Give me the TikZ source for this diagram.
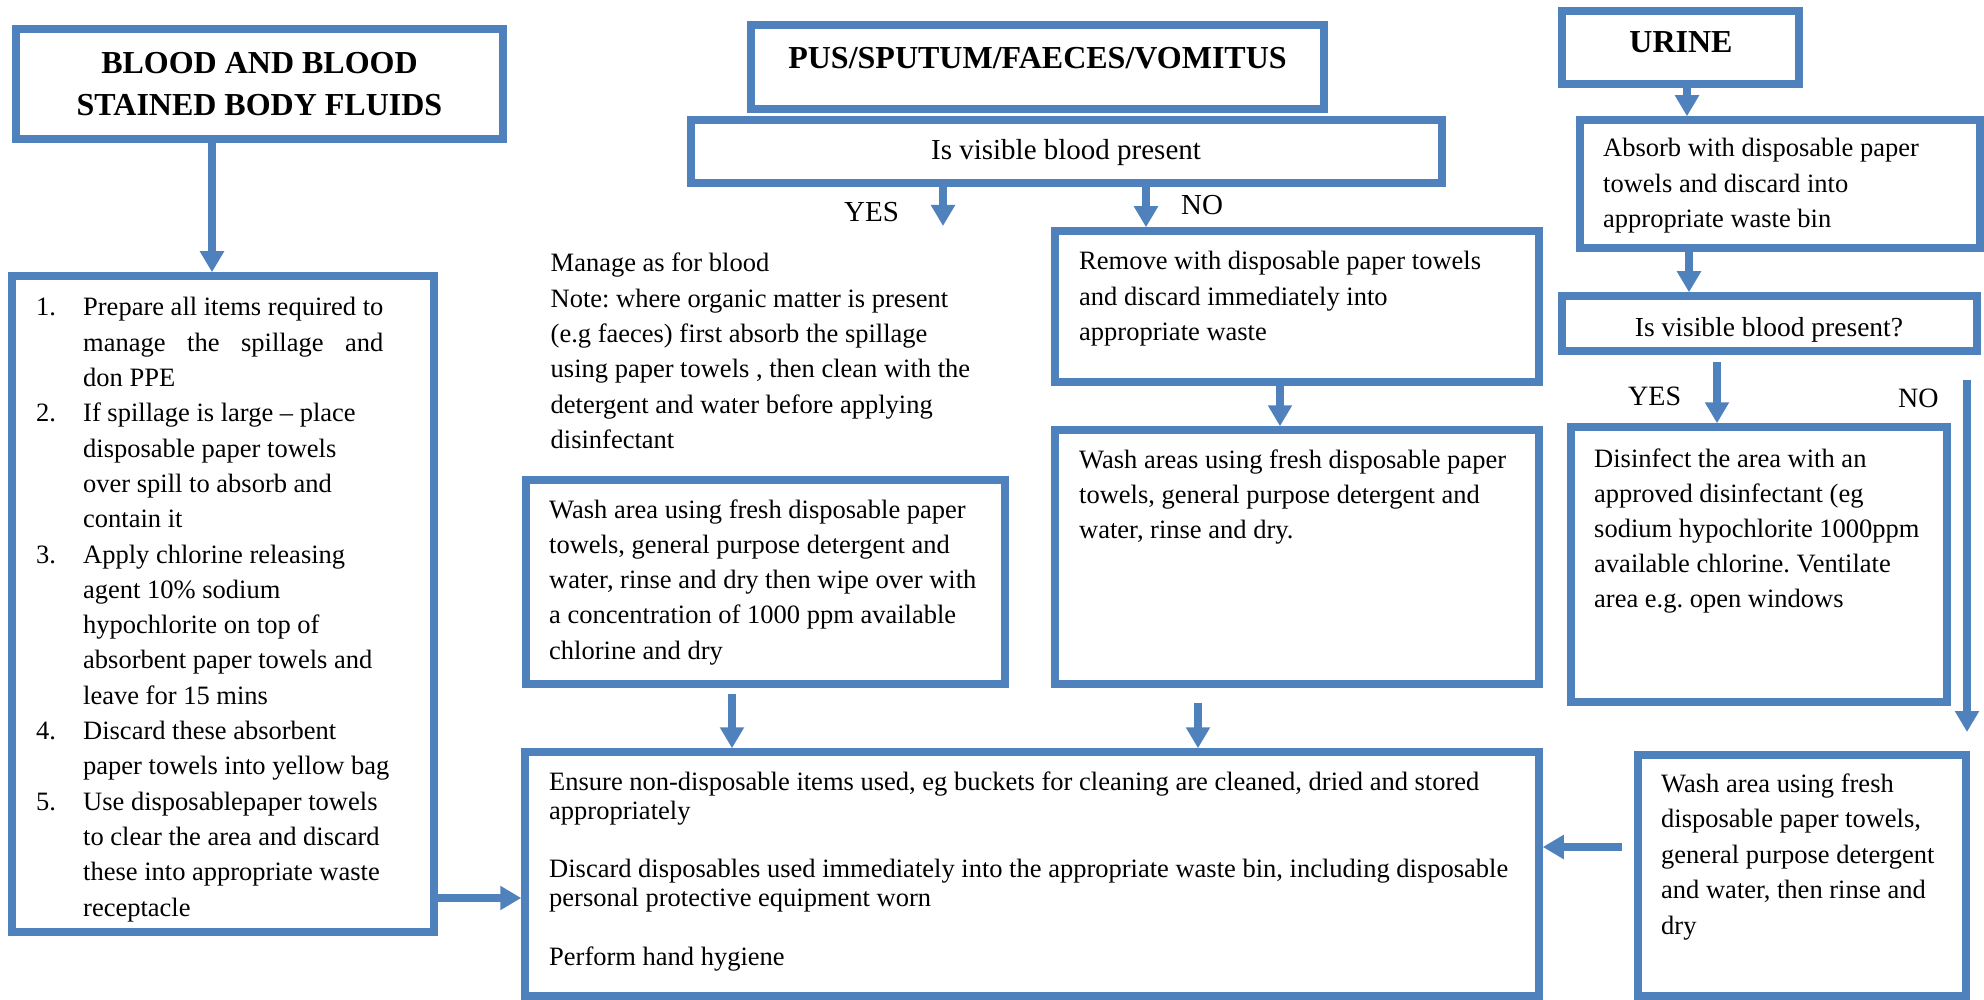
\documentclass[tikz,border=0pt]{standalone}
\usepackage{fontspec}
\setmainfont{Liberation Serif}
\usepackage{calc}
\usetikzlibrary{arrows.meta}
\definecolor{wblue}{RGB}{79,129,189}
\frenchspacing
\begin{document}
\begin{tikzpicture}[x=1pt,y=-1pt,
  box/.style={draw=wblue, line width=7.5pt, rectangle, inner sep=0pt, fill=white},
  arr/.style={draw=wblue, line width=7.5pt, -{Triangle[width=23pt,length=21pt]}},
  txt/.style={inner sep=0pt, anchor=base west, font=\frenchspacing\fontsize{26.5}{35.3}\selectfont},
  ttl/.style={inner sep=0pt, anchor=base, font=\bfseries\fontsize{32}{42}\selectfont},
  lbl/.style={inner sep=0pt, anchor=base west, font=\fontsize{29}{35}\selectfont},
]
\useasboundingbox (0,0) rectangle (1984,1000);

% ---------- boxes ----------
\node[box, minimum width=487pt, minimum height=110pt] (blood) at (259.5,84) {};
\node[box, minimum width=422pt, minimum height=656pt] (steps) at (223,604) {};
\node[box, minimum width=573pt, minimum height=84pt] (pus) at (1037.5,67) {};
\node[box, minimum width=751pt, minimum height=63pt] (qmid) at (1066.5,151.5) {};
\node[box, minimum width=484pt, minimum height=151pt] (remove) at (1297,306.5) {};
\node[box, minimum width=484pt, minimum height=254pt] (washareas) at (1297,557) {};
\node[box, minimum width=479pt, minimum height=204pt] (washleft) at (765.5,582) {};
\node[box, minimum width=1014pt, minimum height=244pt] (closing) at (1032,874) {};
\node[box, minimum width=237pt, minimum height=73pt] (urine) at (1680.5,47.5) {};
\node[box, minimum width=400pt, minimum height=128pt] (absorb) at (1780,184) {};
\node[box, minimum width=415pt, minimum height=55pt] (qright) at (1769.5,323.5) {};
\node[box, minimum width=376pt, minimum height=275pt] (disinfect) at (1759,564.5) {};
\node[box, minimum width=328pt, minimum height=241pt] (washright) at (1802,875.5) {};

% ---------- titles ----------
\node[ttl] (tblood) at (259.5,74) {\parbox[t]{470pt}{\centering BLOOD AND BLOOD\\STAINED BODY FLUIDS}};
\node[ttl] (tpus) at (1037.5,69) {PUS/SPUTUM/FAECES/VOMITUS};
\node[ttl] (turine) at (1681,53) {URINE};

% ---------- questions and labels ----------
\node[inner sep=0pt, anchor=base, font=\fontsize{29}{35}\selectfont] (tqmid) at (1066,160) {Is visible blood present};
\node[inner sep=0pt, anchor=base, font=\fontsize{27.5}{35}\selectfont] (tqright) at (1769,337) {Is visible blood present?};
\node[lbl] (yesmid) at (844,222) {YES};
\node[lbl] (nomid) at (1181,215) {NO};
\node[lbl, font=\fontsize{28}{35}\selectfont] (yesright) at (1628,405) {YES};
\node[lbl, font=\fontsize{28}{35}\selectfont] (noright) at (1898,407) {NO};

% ---------- body texts ----------
\node[txt] (tsteps) at (36,316) {\parbox[t]{395pt}{%
\makebox[47pt][l]{1.}Prepare all items required to\\
\hspace*{47pt}\makebox[\widthof{Prepare all items required to}][s]{manage the spillage and}\\
\hspace*{47pt}don PPE\\
\makebox[47pt][l]{2.}If spillage is large -- place\\
\hspace*{47pt}disposable paper towels\\
\hspace*{47pt}over spill to absorb and\\
\hspace*{47pt}contain it\\
\makebox[47pt][l]{3.}Apply chlorine releasing\\
\hspace*{47pt}agent 10\% sodium\\
\hspace*{47pt}hypochlorite on top of\\
\hspace*{47pt}absorbent paper towels and\\
\hspace*{47pt}leave for 15 mins\\
\makebox[47pt][l]{4.}Discard these absorbent\\
\hspace*{47pt}paper towels into yellow bag\\
\makebox[47pt][l]{5.}Use disposablepaper towels\\
\hspace*{47pt}to clear the area and discard\\
\hspace*{47pt}these into appropriate waste\\
\hspace*{47pt}receptacle}};

\node[txt] (tmanage) at (550.5,272) {\parbox[t]{470pt}{%
Manage as for blood\\
Note: where organic matter is present\\
(e.g faeces) first absorb the spillage\\
using paper towels , then clean with the\\
detergent and water before applying\\
disinfectant}};

\node[txt] (tremove) at (1079,270) {\parbox[t]{455pt}{%
Remove with disposable paper towels\\
and discard immediately into\\
appropriate waste}};

\node[txt] (twashareas) at (1079,468) {\parbox[t]{455pt}{%
Wash areas using fresh disposable paper\\
towels, general purpose detergent and\\
water, rinse and dry.}};

\node[txt] (twashleft) at (549,518) {\parbox[t]{455pt}{%
Wash area using fresh disposable paper\\
towels, general purpose detergent and\\
water, rinse and dry then wipe over with\\
a concentration of 1000 ppm available\\
chlorine and dry}};

\node[txt, font=\frenchspacing\fontsize{26.5}{29.2}\selectfont] (tclosing) at (549,790) {\parbox[t]{980pt}{%
Ensure non-disposable items used, eg buckets for cleaning are cleaned, dried and stored\\
appropriately\\
\mbox{}\\
Discard disposables used immediately into the appropriate waste bin, including disposable\\
personal protective equipment worn\\
\mbox{}\\
Perform hand hygiene}};

\node[txt, font=\frenchspacing\fontsize{26.5}{35.5}\selectfont] (tabsorb) at (1603,157) {\parbox[t]{370pt}{%
Absorb with disposable paper\\
towels and discard into\\
appropriate waste bin}};

\node[txt, font=\frenchspacing\fontsize{26.5}{35}\selectfont] (tdisinfect) at (1594,467) {\parbox[t]{350pt}{%
Disinfect the area with an\\
approved disinfectant (eg\\
sodium hypochlorite 1000ppm\\
available chlorine. Ventilate\\
area e.g. open windows}};

\node[txt, font=\frenchspacing\fontsize{26.5}{35.5}\selectfont] (twashright) at (1661,792) {\parbox[t]{300pt}{%
Wash area using fresh\\
disposable paper towels,\\
general purpose detergent\\
and water, then rinse and\\
dry}};

% ---------- helper coordinates ----------
\coordinate (xa) at (212,0);
\coordinate (ya) at (0,898);
\coordinate (yesmidtip) at (943,226);
\coordinate (xno) at (1146,0);
\coordinate (xrw) at (1280,0);
\coordinate (wlstart) at (732,694);
\coordinate (wastart) at (1198,703);
\coordinate (xu) at (1687,0);
\coordinate (xab) at (1689,0);
\coordinate (xyr) at (1717,0);
\coordinate (yrstart) at (1717,362);
\coordinate (nostart) at (1967,380);
\coordinate (notip) at (1967,732);
\coordinate (yw) at (0,847);
\coordinate (wrstart) at (1622,847);

% ---------- connectors ----------
\draw[arr] (blood.south -| xa) -- (steps.north -| xa);
\draw[arr] (steps.east |- ya) -- (closing.west |- ya);
\draw[arr] (qmid.south -| yesmidtip) -- (yesmidtip);
\draw[arr] (qmid.south -| xno) -- (remove.north -| xno);
\draw[arr] (remove.south -| xrw) -- (washareas.north -| xrw);
\draw[arr] (wlstart) -- (closing.north -| wlstart);
\draw[arr] (wastart) -- (closing.north -| wastart);
\draw[arr] (urine.south -| xu) -- (absorb.north -| xu);
\draw[arr] (absorb.south -| xab) -- (qright.north -| xab);
\draw[arr] (yrstart) -- (disinfect.north -| xyr);
\draw[arr] (nostart) -- (notip);
\draw[arr] (wrstart) -- (closing.east |- yw);
\end{tikzpicture}
\end{document}
